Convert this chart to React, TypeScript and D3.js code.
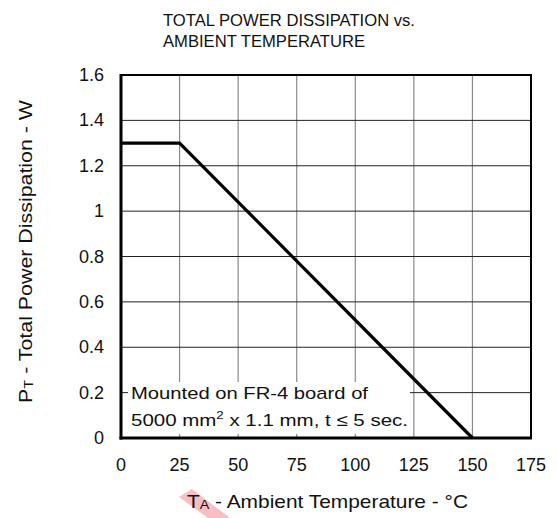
import * as d3 from 'd3';

// derating curve: P_T vs T_A
const tempPoints = [0, 25, 150];
const powerPoints = [1.3, 1.3, 0];

const xTicks = [0, 25, 50, 75, 100, 125, 150, 175];
const yTicks = [0, 0.2, 0.4, 0.6, 0.8, 1, 1.2, 1.4, 1.6];
const yTickLabels = ['0', '0.2', '0.4', '0.6', '0.8', '1', '1.2', '1.4', '1.6'];

const titleLines = ['TOTAL POWER DISSIPATION vs.', 'AMBIENT TEMPERATURE'];
const titleWidths = [252, 202];

export default function App() {
  const width = 558;
  const height = 518;
  const font = '"Liberation Sans", Arial, Helvetica, sans-serif';

  const x = d3.scaleLinear().domain([0, 175]).range([121, 531]);
  const y = d3.scaleLinear().domain([0, 1.6]).range([438, 75]);

  const data = tempPoints.map((t, i) => ({ t, p: powerPoints[i] }));
  const line = d3.line<{ t: number; p: number }>()
    .x(d => x(d.t))
    .y(d => y(d.p));

  return (
    <svg width={width} height={height}
      style={{ position: 'absolute', left: 0, top: 0, background: '#fff' }}
      fontFamily={font}>
      <rect x={0} y={0} width={width} height={height} fill="#fff" />

      {/* title */}
      {titleLines.map((t, i) => (
        <text key={t} x={163} y={26 + i * 21} fontSize={17} fill="#111"
          textLength={titleWidths[i]} lengthAdjust="spacingAndGlyphs">{t}</text>
      ))}

      {/* vertical grid (grey) */}
      {xTicks.slice(1, -1).map(v => (
        <line key={'vx' + v} x1={x(v)} x2={x(v)} y1={y(1.6)} y2={y(0)}
          stroke="#8a8a8a" strokeWidth={1.2} />
      ))}
      {/* horizontal grid (black) */}
      {yTicks.slice(1, -1).map(v => (
        <line key={'hy' + v} x1={x(0)} x2={x(175)} y1={y(v)} y2={y(v)}
          stroke="#222" strokeWidth={1} />
      ))}

      {/* note box covers the grid */}
      <rect x={x(0)} y={382} width={410 - x(0)} height={52} fill="#fff" />
      <line x1={x(0)} x2={x(0) + 7} y1={y(0.2)} y2={y(0.2)} stroke="#222" strokeWidth={1} />
      <text x={131} y={399} fontSize={17} fill="#111" textLength={237} lengthAdjust="spacingAndGlyphs">
        Mounted on FR-4 board of
      </text>
      <text x={131} y={426} fontSize={17} fill="#111" textLength={277} lengthAdjust="spacingAndGlyphs">
        5000 mm<tspan dy={-7} fontSize={11}>2</tspan><tspan dy={7}> x 1.1 mm, t ≤ 5 sec.</tspan>
      </text>

      {/* frame */}
      <rect x={x(0)} y={y(1.6)} width={x(175) - x(0)} height={y(0) - y(1.6)}
        fill="none" stroke="#000" strokeWidth={2} />
      <line x1={x(0)} x2={x(0)} y1={y(1.6) - 1} y2={y(0) + 1.5} stroke="#000" strokeWidth={3} />
      <line x1={x(0) - 1.5} x2={x(175) + 1} y1={y(0)} y2={y(0)} stroke="#000" strokeWidth={3} />

      {/* curve */}
      <path d={line(data) || ''} fill="none" stroke="#000" strokeWidth={3.2} strokeLinejoin="miter" />

      {/* tick labels */}
      {xTicks.map(v => (
        <text key={'xt' + v} x={x(v)} y={471} fontSize={18} textAnchor="middle" fill="#111">{v}</text>
      ))}
      {yTicks.map((v, i) => (
        <text key={'yt' + v} x={104} y={y(v) + 6} fontSize={18} textAnchor="end" fill="#111">{yTickLabels[i]}</text>
      ))}

      {/* pink mark near x label */}
      <polygon points="179,497 192,489 230,518 208,518" fill="#f7b3ba" opacity={0.85} />

      {/* axis titles */}
      <text x={187} y={508} fontSize={19} fill="#111" textLength={281} lengthAdjust="spacingAndGlyphs">
        T<tspan fontSize={13} dy={1}>A</tspan><tspan dy={-1}> - Ambient Temperature - °C</tspan>
      </text>
      <text transform="translate(32,403) rotate(-90)" fontSize={19} fill="#111"
        textLength={303} lengthAdjust="spacingAndGlyphs">
        P<tspan fontSize={13} dy={1}>T</tspan><tspan dy={-1}> - Total Power Dissipation - W</tspan>
      </text>
    </svg>
  );
}
